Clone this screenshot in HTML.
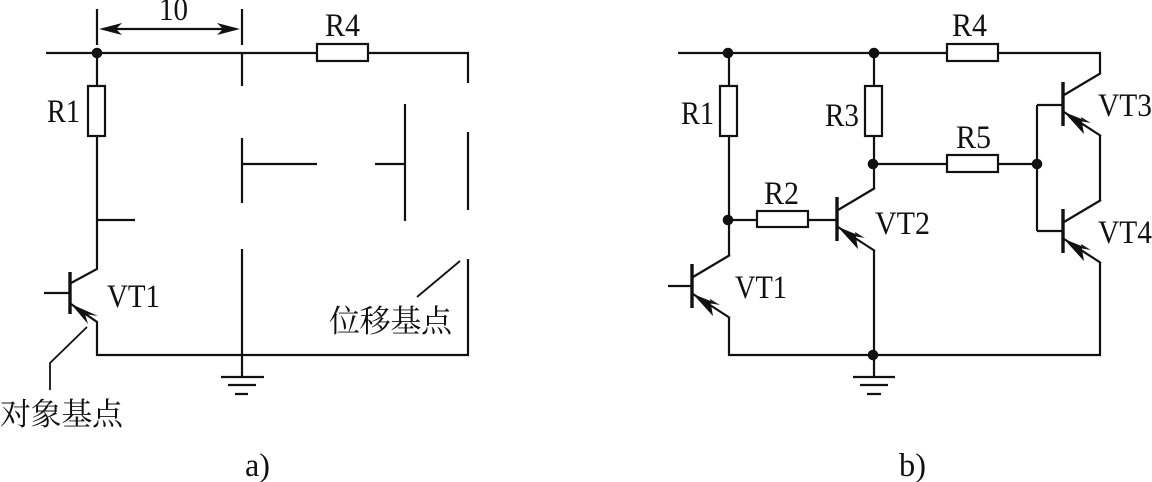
<!DOCTYPE html>
<html><head><meta charset="utf-8"><style>
html,body{margin:0;padding:0;background:#fff;width:1152px;height:482px;overflow:hidden}
svg{display:block}
text{font-family:"Liberation Serif","Noto Serif CJK SC",serif;font-size:33px;fill:#111}
.c{font-family:"Liberation Serif","Noto Serif CJK SC",serif;font-size:31px}
</style></head><body>
<svg width="1152" height="482" viewBox="0 0 1152 482" xmlns="http://www.w3.org/2000/svg">
<defs>
<g id="npn">
<path d="M-1 -22V22" stroke-width="3.4" stroke="#111" fill="none"/>
<path d="M0 -9L37 -31M0 8L37 32" stroke="#111" stroke-width="2.2" fill="none"/>
<path d="M0 8L27 19L17 13L20 30Z" fill="#111" stroke="none"/>
<path d="M0 8L27 19L15 17L20 30Z" fill="#111" stroke="none"/>
</g>
</defs>
<g fill="none" stroke="#111" stroke-width="2.2">
<!-- a) -->
<path d="M97 9V45M242 9V45M46 53H317M368 53H468V83M97 53V86M97 136V269L71 283"/>
<path d="M97 220H135M242 53V86M242 138V203M242 164H317M375 164H405M405 104V221M468 132V210M468 259V355H97V322L71 304"/>
<path d="M242 249V377M221 377H264M228 385H256M235 394H248" />
<path d="M44 293H70"/>
<path d="M70 272V314" stroke-width="3.4"/>
<path d="M103 29H236"/>
<rect x="88" y="86" width="17" height="50" fill="#fff"/>
<rect x="317" y="44" width="51" height="17" fill="#fff"/>
<path d="M87 327L50 363V390M417 297L460 261" stroke-width="1.8"/>
<!-- b) -->
<path d="M678 53H946M998 53H1100V74M729 53V86M729 136V256M874 53V86M874 136V189"/>
<path d="M874 164H946M998 164H1037M729 220H757M808 220H836M668 286H692"/>
<path d="M729 318V355H1100V263M874 251V377M853 377H895M860 385H888M867 394H881"/>
<path d="M1037 105V231M1037 105H1063M1037 231H1063M1100 136V201"/>
<rect x="720" y="86" width="17" height="50" fill="#fff"/>
<rect x="865" y="86" width="17" height="50" fill="#fff"/>
<rect x="757" y="211" width="51" height="16" fill="#fff"/>
<rect x="947" y="44" width="51" height="17" fill="#fff"/>
<rect x="947" y="155" width="51" height="17" fill="#fff"/>
</g>
<path d="M99 29L122 23L116 29L122 35ZM240 29L217 23L223 29L217 35Z" fill="#111"/>
<path d="M71 304L98 316L85 314L88 324Z" fill="#111"/>
<use href="#npn" x="693" y="286"/>
<use href="#npn" x="838" y="219"/>
<use href="#npn" x="1064" y="104"/>
<use href="#npn" x="1064" y="231"/>
<g fill="#111">
<circle cx="97" cy="53" r="5.3"/>
<circle cx="728" cy="53" r="5.3"/>
<circle cx="874" cy="53" r="5.3"/>
<circle cx="873" cy="164" r="5.3"/>
<circle cx="728" cy="220" r="5.3"/>
<circle cx="873" cy="355" r="5.3"/>
<circle cx="1037" cy="164" r="5.3"/>
</g>
<text x="159" y="20" textLength="29" lengthAdjust="spacingAndGlyphs">10</text>
<text x="47" y="122" textLength="33" lengthAdjust="spacingAndGlyphs">R1</text>
<text x="325" y="36" textLength="35" lengthAdjust="spacingAndGlyphs">R4</text>
<text x="107" y="307" textLength="53" lengthAdjust="spacingAndGlyphs">VT1</text>
<text x="681" y="124" textLength="33" lengthAdjust="spacingAndGlyphs">R1</text>
<text x="825" y="126" textLength="34" lengthAdjust="spacingAndGlyphs">R3</text>
<text x="764" y="204" textLength="35" lengthAdjust="spacingAndGlyphs">R2</text>
<text x="952" y="36" textLength="35" lengthAdjust="spacingAndGlyphs">R4</text>
<text x="956" y="148" textLength="35" lengthAdjust="spacingAndGlyphs">R5</text>
<text x="875" y="234" textLength="55" lengthAdjust="spacingAndGlyphs">VT2</text>
<text x="735" y="298" textLength="52" lengthAdjust="spacingAndGlyphs">VT1</text>
<text x="1098" y="116" textLength="54" lengthAdjust="spacingAndGlyphs">VT3</text>
<text x="1098" y="243" textLength="54" lengthAdjust="spacingAndGlyphs">VT4</text>
<text class="c" x="0" y="425" textLength="123">对象基点</text>
<text class="c" x="329" y="332" textLength="123">位移基点</text>
<text x="245" y="476" textLength="25" lengthAdjust="spacingAndGlyphs">a)</text>
<text x="899" y="476" textLength="27" lengthAdjust="spacingAndGlyphs">b)</text>
</svg>
</body></html>
